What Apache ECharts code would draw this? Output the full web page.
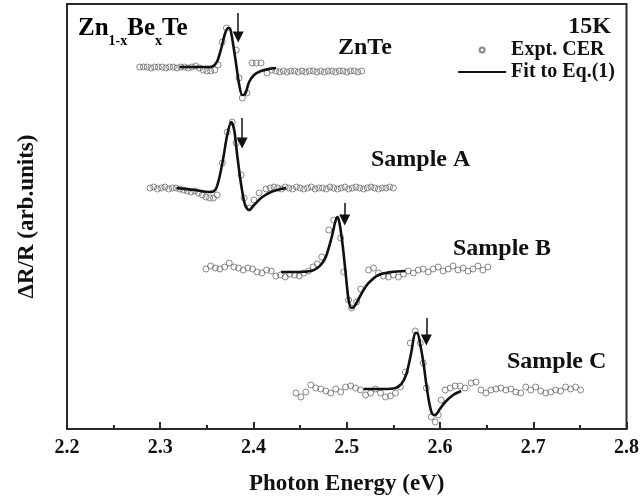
<!DOCTYPE html>
<html>
<head>
<meta charset="utf-8">
<script src="https://cdn.jsdelivr.net/npm/echarts@6/dist/echarts.min.js"></script>
<style>
  html, body { margin: 0; padding: 0; background: #fff; }
  #main { width: 642px; height: 502px; }
</style>
</head>
<body>
<div id="main"></div>
<script>
// photon energy (eV) / dR/R (arb. units, curves already offset)
var xTicks = [2.2, 2.3, 2.4, 2.5, 2.6, 2.7, 2.8];

var zntePts = [
  [2.278, 362], [2.282, 362], [2.286, 362], [2.290, 361], [2.294, 362], [2.298, 362],
  [2.302, 362], [2.306, 361], [2.310, 362], [2.314, 362], [2.318, 361], [2.322, 362],
  [2.326, 362], [2.330, 361], [2.334, 362], [2.338, 363], [2.342, 361], [2.346, 359],
  [2.350, 358], [2.354, 358], [2.3585, 359], [2.362, 364], [2.3665, 387], [2.371, 401],
  [2.3815, 379], [2.3845, 351], [2.388, 331], [2.393, 336], [2.3985, 366], [2.403, 366],
  [2.408, 366], [2.4145, 356], [2.4195, 359], [2.424, 358], [2.428, 357], [2.432, 358],
  [2.436, 357], [2.440, 358], [2.444, 358], [2.448, 357], [2.452, 358], [2.456, 357],
  [2.460, 358], [2.464, 358], [2.468, 357], [2.472, 358], [2.476, 357], [2.480, 358],
  [2.484, 358], [2.488, 357], [2.492, 358], [2.496, 358], [2.500, 357], [2.504, 358],
  [2.508, 358], [2.512, 357], [2.516, 358]
];
var znteFit = [
  [2.3206, 362], [2.3526, 362], [2.3569, 363], [2.3612, 368], [2.3655, 381], [2.3697, 396],
  [2.3729, 401], [2.3751, 400], [2.3783, 384], [2.3815, 364], [2.3847, 344], [2.3879, 334],
  [2.3911, 335], [2.3953, 347], [2.4006, 354], [2.4081, 358], [2.4166, 360], [2.4241, 361]
];

var samplePtsA = [
  [2.289, 241], [2.293, 242], [2.297, 240], [2.301, 241], [2.305, 242], [2.309, 240],
  [2.313, 241], [2.317, 241], [2.321, 240], [2.325, 239], [2.329, 238], [2.333, 237],
  [2.337, 238], [2.341, 236], [2.345, 234], [2.349, 232], [2.353, 231], [2.357, 231],
  [2.361, 234], [2.3665, 266], [2.3718, 297], [2.3772, 307], [2.3814, 286], [2.3868, 254],
  [2.390, 231], [2.3953, 221], [2.4006, 229], [2.406, 236], [2.4134, 240], [2.418, 241],
  [2.422, 242], [2.426, 241], [2.430, 240], [2.434, 242], [2.438, 241], [2.442, 240],
  [2.446, 242], [2.450, 241], [2.454, 240], [2.458, 241], [2.462, 242], [2.466, 240],
  [2.470, 241], [2.474, 241], [2.478, 240], [2.482, 242], [2.486, 241], [2.490, 240],
  [2.494, 241], [2.498, 242], [2.502, 240], [2.506, 241], [2.510, 242], [2.514, 241],
  [2.518, 240], [2.522, 241], [2.526, 242], [2.530, 241], [2.534, 240], [2.538, 241],
  [2.542, 241], [2.546, 242], [2.550, 241]
];
var sampleFitA = [
  [2.3174, 241], [2.3366, 239], [2.3526, 237], [2.359, 239], [2.3633, 251], [2.3676, 271],
  [2.3718, 294], [2.3761, 307], [2.3793, 299], [2.3825, 274], [2.3868, 244], [2.391, 224],
  [2.3953, 219], [2.4006, 224], [2.4081, 231], [2.4188, 237], [2.4348, 241]
];

var samplePtsB = [
  [2.349, 160], [2.354, 163], [2.359, 161], [2.364, 160], [2.369, 162], [2.374, 166],
  [2.379, 162], [2.384, 161], [2.389, 159], [2.394, 161], [2.399, 160], [2.404, 157],
  [2.409, 156], [2.414, 159], [2.419, 158], [2.424, 153], [2.429, 154], [2.434, 152],
  [2.439, 155], [2.444, 154], [2.449, 153], [2.454, 156], [2.459, 158], [2.464, 162],
  [2.4685, 165], [2.4732, 172], [2.4807, 199], [2.486, 209], [2.4935, 191], [2.4967, 157],
  [2.502, 129], [2.5052, 121], [2.5106, 127], [2.515, 140], [2.5234, 159], [2.5287, 161],
  [2.534, 156], [2.5394, 153], [2.5447, 152], [2.550, 154], [2.5554, 152], [2.5607, 155],
  [2.566, 158], [2.5714, 156], [2.5767, 159], [2.582, 160], [2.5874, 157], [2.5927, 160],
  [2.598, 162], [2.6034, 158], [2.6087, 160], [2.614, 163], [2.6194, 159], [2.6247, 161],
  [2.630, 158], [2.6354, 160], [2.6407, 163], [2.646, 159], [2.6514, 162]
];
var sampleFitB = [
  [2.4295, 157], [2.4487, 157], [2.4615, 158], [2.4668, 160], [2.4721, 164], [2.4775, 172],
  [2.4839, 192], [2.4882, 209], [2.4903, 212], [2.4924, 205], [2.4956, 184], [2.4988, 156],
  [2.502, 129], [2.5052, 121], [2.5084, 123], [2.5127, 130], [2.518, 139], [2.5234, 146],
  [2.534, 154], [2.5479, 157], [2.5629, 158]
];

var samplePtsC = [
  [2.4455, 36], [2.4508, 32], [2.4561, 37], [2.4615, 44], [2.4668, 41], [2.4721, 40],
  [2.4775, 38], [2.4828, 36], [2.4882, 40], [2.4935, 37], [2.4988, 42], [2.5042, 43],
  [2.5095, 41], [2.5148, 39], [2.5202, 34], [2.5255, 36], [2.5308, 40], [2.5362, 36],
  [2.5415, 32], [2.5468, 33], [2.5522, 36], [2.5575, 42], [2.5629, 57], [2.5682, 86],
  [2.5735, 98], [2.5789, 86], [2.5821, 66], [2.5853, 41], [2.5906, 12], [2.5949, 7],
  [2.5981, 14], [2.6013, 29], [2.6056, 39], [2.6109, 41], [2.6162, 43], [2.6216, 43],
  [2.6269, 41], [2.6333, 46], [2.6386, 47], [2.6439, 39], [2.6493, 36], [2.6546, 39],
  [2.660, 40], [2.6653, 41], [2.6706, 39], [2.676, 40], [2.6813, 37], [2.6866, 36],
  [2.692, 42], [2.6973, 39], [2.7026, 42], [2.708, 38], [2.7133, 36], [2.7187, 37],
  [2.724, 39], [2.7293, 38], [2.7347, 42], [2.740, 40], [2.7454, 42], [2.7507, 39]
];
var sampleFitC = [
  [2.518, 40], [2.5394, 40], [2.5522, 41], [2.5586, 45], [2.5639, 55], [2.5693, 77],
  [2.5735, 96], [2.5757, 96], [2.5789, 84], [2.5821, 67], [2.5853, 45], [2.5885, 26],
  [2.5917, 15], [2.5949, 14], [2.5991, 19], [2.6056, 27], [2.6141, 34], [2.6226, 38]
];

// band-gap arrows: energy, top, bottom
var arrowX = [2.3836, 2.3878, 2.4978, 2.5853];
var arrowTop = [416, 311, 226, 111];
var arrowBottom = [392, 286, 209, 89];

var ptsList = [zntePts, samplePtsA, samplePtsB, samplePtsC];
var fitList = [znteFit, sampleFitA, sampleFitB, sampleFitC];

var serif = 'Liberation Serif';
var dark = '#2a2a2a';

var series = [];
ptsList.forEach(function(pts) {
  series.push({
    name: 'Expt. CER',
    type: 'scatter',
    data: pts,
    symbol: 'circle',
    symbolSize: 6,
    itemStyle: { color: 'rgba(255,255,255,0)', borderColor: '#6a6a6a', borderWidth: 1 },
    z: 2
  });
});
fitList.forEach(function(fit) {
  series.push({
    name: 'Fit to Eq.(1)',
    type: 'line',
    data: fit,
    symbol: 'none',
    smooth: 0.3,
    itemStyle: { color: '#111' },
    lineStyle: { color: '#111', width: 2.6 },
    z: 3
  });
});

var arrowLines = [];
for (var i = 0; i < arrowX.length; i++) {
  arrowLines.push({ coords: [[arrowX[i], arrowTop[i]], [arrowX[i], arrowBottom[i]]] });
}
series.push({
  type: 'lines',
  coordinateSystem: 'cartesian2d',
  data: arrowLines,
  symbol: ['none', 'triangle'],
  symbolSize: [7, 11],
  lineStyle: { color: '#111', width: 1.5, opacity: 1 },
  z: 4
});

var labelStyle = { fontFamily: serif, fontWeight: 'bold', fontSize: 24, fill: '#111' };
function txt(x, y, s, align) {
  return {
    type: 'text', x: x, y: y,
    style: Object.assign({ text: s, align: align || 'left', verticalAlign: 'middle' }, labelStyle)
  };
}

var chart = echarts.init(document.getElementById('main'));
chart.setOption({
  animation: false,
  backgroundColor: '#fff',
  grid: { left: 67, right: 13, top: 4, bottom: 73, show: true, borderColor: dark, borderWidth: 2 },
  legend: {
    // the fit entry is only a line, hide the marker dot
    data: [
      { name: 'Expt. CER' },
      { name: 'Fit to Eq.(1)', itemStyle: { opacity: 0 } }
    ],
    orient: 'vertical',
    right: 22,
    top: 35,
    itemWidth: 48,
    itemHeight: 5,
    itemGap: 2,
    selectedMode: false,
    textStyle: { fontFamily: serif, fontWeight: 'bold', fontSize: 20, color: '#111' }
  },
  xAxis: {
    type: 'value',
    min: xTicks[0],
    max: xTicks[xTicks.length - 1],
    interval: 0.1,
    name: 'Photon Energy (eV)',
    nameLocation: 'middle',
    nameGap: 44,
    nameTextStyle: { fontFamily: serif, fontWeight: 'bold', fontSize: 23, color: '#111' },
    axisLine: { lineStyle: { color: dark, width: 2 } },
    axisTick: { inside: true, length: 7, lineStyle: { color: dark, width: 2 } },
    minorTick: { show: true, splitNumber: 2, length: 4, lineStyle: { color: dark, width: 2 } },
    axisLabel: {
      margin: 9, fontFamily: serif, fontWeight: 'bold', fontSize: 20, color: '#111',
      formatter: function(v) { return v.toFixed(1); }
    },
    splitLine: { show: false }
  },
  yAxis: {
    type: 'value',
    min: 0,
    max: 425,
    name: '\u0394R/R (arb.units)',
    nameLocation: 'middle',
    nameGap: 28,
    nameTextStyle: { fontFamily: serif, fontWeight: 'bold', fontSize: 23, color: '#111' },
    axisLine: { show: false },
    axisTick: { show: false },
    axisLabel: { show: false },
    splitLine: { show: false }
  },
  graphic: [
    {
      type: 'text', x: 78, y: 16,
      style: {
        text: '{m|Zn}{s|1-x}{m|Be}{s|x}{m|Te}',
        rich: {
          m: { fontFamily: serif, fontWeight: 'bold', fontSize: 25, color: '#111', verticalAlign: 'top' },
          s: { fontFamily: serif, fontWeight: 'bold', fontSize: 14, color: '#111', verticalAlign: 'top', padding: [18, 0, 0, 0] }
        }
      }
    },
    txt(611, 27, '15K', 'right'),
    txt(338, 48, 'ZnTe'),
    txt(371, 160, 'Sample A'),
    txt(453, 249, 'Sample B'),
    txt(507, 362, 'Sample C')
  ],
  series: series
});
</script>
</body>
</html>
